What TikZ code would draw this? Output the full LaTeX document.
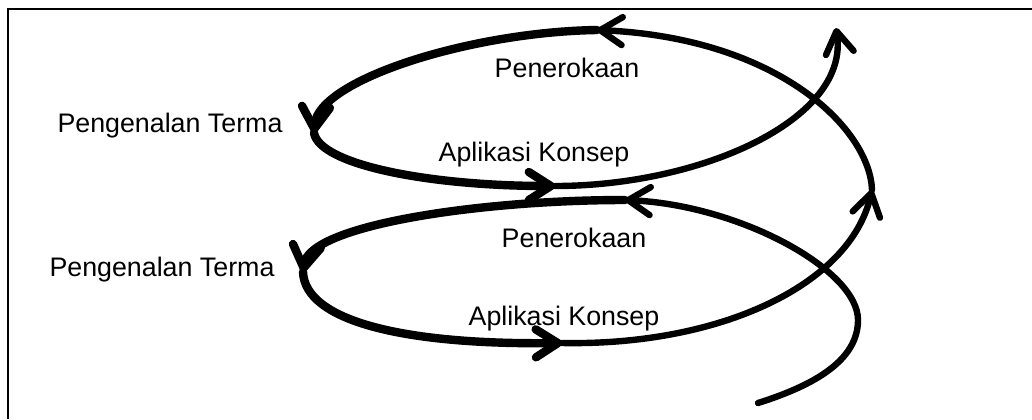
\documentclass[tikz,border=0pt]{standalone}
\usepackage{fontspec}
\setmainfont{Liberation Sans}
\usetikzlibrary{arrows.meta}

\tikzset{
  loopline/.style={line width=4.2pt, line cap=round, -{Straight Barb[round,length=11pt,width=14pt]}},
  riseline/.style={line width=3.2pt, line cap=round, -{Straight Barb[round,length=11pt,width=14pt]}},
  lbl/.style={inner sep=0pt, font=\fontsize{13.4}{15}\selectfont}
}

\begin{document}
\begin{tikzpicture}[x=0.5pt, y=-0.5pt]
    \useasboundingbox (0, 0) rectangle (1032, 419);
    \draw[line width=1pt] (7.5, 419) -- (7.5, 8.5) -- (1032, 8.5);

    \coordinate (s0) at (758, 403);
    \coordinate (r1) at (858, 320);
    \coordinate (a1) at (625, 200);
    \coordinate (l1) at (303, 272);
    \coordinate (b1) at (562, 343);
    \coordinate (u1) at (872, 190);
    \coordinate (t1) at (597, 30);
    \coordinate (l2) at (314, 133);
    \coordinate (b2) at (555, 186);
    \coordinate (e1) at (836, 28);

    \node[lbl] (pen1) at (567, 67.5) {Penerokaan};
    \node[lbl] (ter1) at (170, 126) {Pengenalan Terma};
    \node[lbl] (apl1) at (534, 154.5) {Aplikasi Konsep};
    \node[lbl] (pen2) at (574, 238) {Penerokaan};
    \node[lbl] (ter2) at (162, 270) {Pengenalan Terma};
    \node[lbl] (apl2) at (564, 318.5) {Aplikasi Konsep};

    % lower turn
    \draw[riseline] (s0) .. controls (815, 385) and (858, 360) .. (r1)
        .. controls (858, 270) and (740, 205) .. (a1);
    \draw[loopline] (a1) .. controls (480, 200) and (310, 225) .. (l1);
    \draw[loopline] (l1) .. controls (305, 320) and (400, 345) .. (b1);
    \draw[riseline] (b1) .. controls (720, 346) and (850, 285) .. (u1);
    % upper turn
    \draw[riseline] (u1) .. controls (870, 130) and (780, 38) .. (t1);
    \draw[loopline] (t1) .. controls (470, 32) and (318, 80) .. (l2);
    \draw[loopline] (l2) .. controls (320, 165) and (430, 186) .. (b2);
    \draw[riseline] (b2) .. controls (700, 186) and (850, 120) .. (e1);
  \end{tikzpicture}
\end{document}
